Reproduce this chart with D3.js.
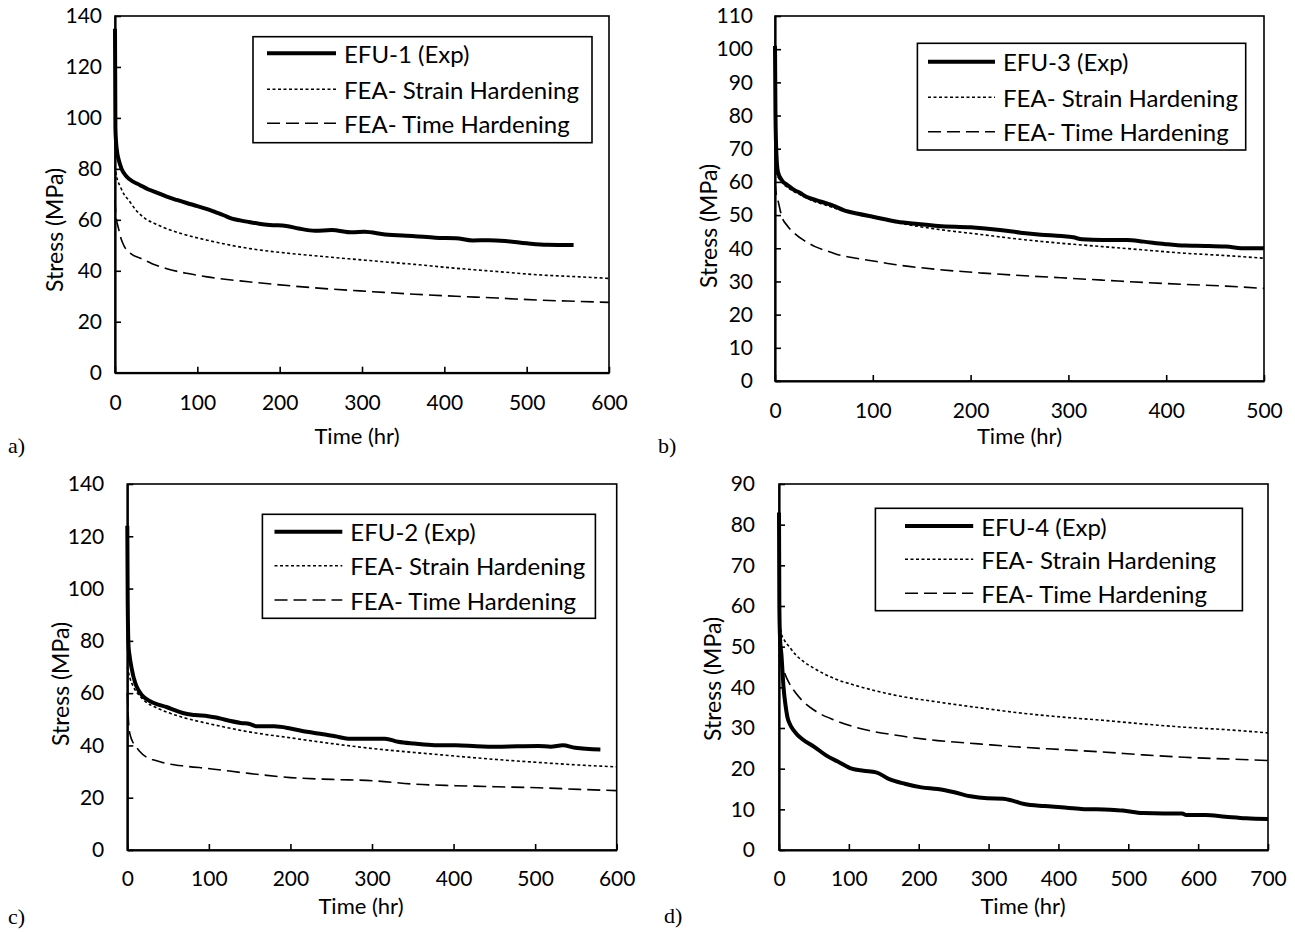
<!DOCTYPE html>
<html><head><meta charset="utf-8">
<script src="https://cdn.jsdelivr.net/npm/d3@7"></script>
<style>
html,body{margin:0;padding:0;background:#fff;}
svg{display:block;}
</style></head>
<body>
<svg id="chart" width="1295" height="933"></svg>
<script>
// ---------- DATA ----------
const seriesNames = ["(Exp)", "FEA- Strain Hardening", "FEA- Time Hardening"];
const panelNames = ["EFU-1", "EFU-3", "EFU-2", "EFU-4"];
const panelTags = ["a)", "b)", "c)", "d)"];
const xTicksA = [0,100,200,300,400,500,600];
const yTicksA = [0,20,40,60,80,100,120,140];
const xTicksB = [0,100,200,300,400,500];
const yTicksB = [0,10,20,30,40,50,60,70,80,90,100,110];
const xTicksC = [0,100,200,300,400,500,600];
const yTicksC = [0,20,40,60,80,100,120,140];
const xTicksD = [0,100,200,300,400,500,600,700];
const yTicksD = [0,10,20,30,40,50,60,70,80,90];

// panel a: EFU-1
const efu1Exp = [[0,135],[0.5,96],[2,88],[5,83],[8,80],[14,77],[22,75],[30,73.7],[40,72],[50,70.8],[62,69.2],[75,67.8],[87,66.6],[100,65.4],[112,64.2],[122,63],[132,61.8],[142,60.5],[152,59.8],[162,59.2],[175,58.5],[188,58],[208,57.6],[223,56.6],[243,55.7],[263,56],[288,55.1],[303,55.3],[328,54.2],[364,53.6],[389,53],[414,52.8],[434,51.9],[454,52],[474,51.7],[500,50.8],[525,50.2],[557,50.1]];
const efu1Strain = [[0,81],[2,77],[6.5,73],[11,70],[16.6,67.7],[25,64],[36.7,60.5],[50,58.3],[62,56.6],[87,54],[112,52],[162,48.8],[213,46.8],[263,45.3],[313,43.9],[364,42.5],[414,41],[464,39.7],[515,38.4],[560,37.7],[600,37]];
const efu1Time = [[0,68],[1,62],[4,57],[7,53],[11.6,49.4],[20,46.5],[31.7,44.8],[45,42.8],[62,40.9],[87,39],[112,37.6],[162,35.7],[213,34.1],[263,32.8],[313,31.8],[364,30.8],[414,30],[464,29.3],[515,28.5],[560,28],[600,27.6]];
// panel b: EFU-3
const efu3Exp = [[0,101],[0.5,80],[1.5,68],[3,63],[7,60.5],[13,59],[20,57.5],[25,56.8],[32,55.5],[42,54.5],[53,53.5],[60,52.8],[70,51.5],[85,50.4],[100,49.5],[125,48],[146,47.3],[167,46.7],[200,46.3],[230,45.5],[251,44.7],[272,44.1],[293,43.7],[305,43.3],[314,42.7],[335,42.5],[360,42.5],[377,42],[398,41.3],[419,40.8],[440,40.7],[461,40.5],[482,40],[500,40]];
const efu3Strain = [[0,63],[3,61.5],[7,59.8],[13,58.3],[20,57],[30,55.5],[41,54],[52,53],[62,52],[83,50.5],[104,49],[125,47.7],[167,45.7],[209,44.2],[251,42.7],[293,41.5],[335,40.5],[377,39.5],[419,38.5],[461,37.8],[500,37]];
const efu3Time = [[0,60],[1,57],[3,54.5],[7,49.5],[12,47],[20,44.5],[30,42.3],[41,40.5],[52,39.3],[62,38.3],[83,37],[104,36],[125,35],[167,33.6],[209,32.6],[251,31.8],[293,31.1],[335,30.4],[377,29.7],[419,29.1],[461,28.6],[500,27.9]];
// panel c: EFU-2
const efu2Exp = [[0,124],[0.5,95],[1.5,78],[2.5,75],[5,70],[10,63.6],[14,61],[18,59.2],[28,56.9],[38,55.6],[48,54.7],[58,53.5],[68,52.4],[83,51.6],[99,51.2],[109,50.7],[119,49.9],[139,48.6],[150,48.2],[159,47.3],[180,47.3],[200,46.5],[220,45.2],[240,44.3],[255,43.5],[271,42.6],[301,42.6],[316,42.6],[332,41.4],[352,40.7],[377,40.1],[403,40.1],[428,39.7],[453,39.5],[478,39.7],[504,39.8],[519,39.5],[534,40.1],[549,39.1],[580,38.4]];
const efu2Strain = [[0,70],[3,66],[7.6,62.4],[15,59],[23,56.6],[35,54.5],[48,52.8],[73,50.3],[99,48.4],[149,45.2],[200,42.9],[251,40.7],[301,38.8],[352,37.3],[403,35.9],[453,34.6],[504,33.5],[554,32.5],[600,31.8]];
const efu2Time = [[0,60],[1,52],[2,47],[4,43.5],[6.4,41.5],[10,39.8],[15,37.8],[23,35.6],[35,34.2],[48,33.1],[73,32],[99,31.2],[149,29.3],[200,27.7],[251,27],[301,26.5],[352,25.2],[403,24.6],[453,24.2],[504,23.8],[554,23.2],[600,22.7]];
// panel d: EFU-4
const efu4Exp = [[0,83],[0.5,60],[1.5,52],[3.5,48],[6.5,40],[9,36],[12,32.7],[16,30.8],[21,29.4],[27,28.2],[33,27.3],[51,25.3],[68,23.2],[86,21.6],[104,20],[121,19.5],[139,19.1],[157,17.5],[180,16.3],[204,15.4],[227,15],[251,14.2],[274,13.2],[298,12.7],[321,12.6],[333,12.2],[351,11.3],[380,10.8],[404,10.5],[433,10.1],[474,9.9],[492,9.7],[521,9.1],[551,9],[577,9],[583,8.6],[610,8.6],[639,8.2],[669,7.8],[700,7.6]];
const efu4Strain = [[0,57],[3.5,53.2],[8,51.5],[15,49.9],[24,48],[33,46.6],[51,44.6],[80,42.1],[109,40.5],[168,38],[227,36.4],[286,35],[345,33.7],[404,32.7],[463,31.9],[521,31],[580,30.2],[639,29.6],[700,28.8]];
const efu4Time = [[0,48],[3.5,45.8],[8,43.5],[15,40.9],[24,38.6],[33,36.8],[51,34.3],[80,31.9],[109,30.2],[168,28.2],[227,26.9],[286,26.1],[345,25.3],[404,24.7],[463,24.1],[521,23.4],[580,22.8],[639,22.4],[700,22]];

// ---------- LAYOUT ----------
const panels = [
  {name:panelNames[0], tag:panelTags[0], exp:efu1Exp, strain:efu1Strain, time:efu1Time, xt:xTicksA, yt:yTicksA,
   L:115, R:609, T:16, B:372.7, yPad:13, xPad:22, leg:{x:253,y:36.7,w:339,h:106, sx:267, tx:344, rows:[53.3,89.3,123.3]},
   ytitle:{x:54,y:230}, xtitle:{x:357,y:435}, tagPos:{x:8,y:445}},
  {name:panelNames[1], tag:panelTags[1], exp:efu3Exp, strain:efu3Strain, time:efu3Time, xt:xTicksB, yt:yTicksB,
   L:775, R:1264, T:16, B:381, yPad:22, xPad:22, leg:{x:917.4,y:43.3,w:328.3,h:106.7, sx:928, tx:1003, rows:[61.7,97.3,131.7]},
   ytitle:{x:707.6,y:226}, xtitle:{x:1019.5,y:435}, tagPos:{x:658,y:445}},
  {name:panelNames[2], tag:panelTags[2], exp:efu2Exp, strain:efu2Strain, time:efu2Time, xt:xTicksC, yt:yTicksC,
   L:127.3, R:616.7, T:484, B:850, yPad:23, xPad:21, leg:{x:262.4,y:514.3,w:333,h:104, sx:274.5, tx:350.3, rows:[531.7,565.7,600]},
   ytitle:{x:60,y:684}, xtitle:{x:361,y:905}, tagPos:{x:8,y:916.7}},
  {name:panelNames[3], tag:panelTags[3], exp:efu4Exp, strain:efu4Strain, time:efu4Time, xt:xTicksD, yt:yTicksD,
   L:779, R:1268, T:484, B:850, yPad:24, xPad:21, leg:{x:875.4,y:508.3,w:367,h:102.4, sx:905, tx:981.2, rows:[526,559.3,593.3]},
   ytitle:{x:711.7,y:679}, xtitle:{x:1023,y:905}, tagPos:{x:664,y:915}}
];

const FONT = "Lato, 'Open Sans', sans-serif";
const styles = [
  {w:4, dash:null},
  {w:1.6, dash:"3,2.5"},
  {w:1.6, dash:"13,6"}
];

const svg = d3.select("#chart");

panels.forEach(p => {
  const xmax = p.xt[p.xt.length-1], ymax = p.yt[p.yt.length-1];
  const x = d3.scaleLinear().domain([0, xmax]).range([p.L, p.R]);
  const y = d3.scaleLinear().domain([0, ymax]).range([p.B, p.T]);
  const g = svg.append("g");

  // frame
  g.append("rect").attr("x",p.L).attr("y",p.T).attr("width",p.R-p.L).attr("height",p.B-p.T)
    .attr("fill","none").attr("stroke","#000").attr("stroke-width",1.6);

  // axes
  const ax = g.append("g").attr("transform",`translate(0,${p.B})`)
    .call(d3.axisBottom(x).tickValues(p.xt).tickSizeInner(-6).tickSizeOuter(0).tickPadding(p.xPad).tickFormat(d3.format("d")));
  const ay = g.append("g").attr("transform",`translate(${p.L},0)`)
    .call(d3.axisLeft(y).tickValues(p.yt).tickSizeInner(-6).tickSizeOuter(0).tickPadding(p.yPad).tickFormat(d3.format("d")));
  [ax, ay].forEach(a => {
    a.select(".domain").attr("stroke","#000").attr("stroke-width",2.2);
    a.selectAll(".tick line").attr("stroke","#000").attr("stroke-width",1.6);
    a.selectAll(".tick text").attr("fill","#000").style("font-family",FONT).style("font-size","21px");
  });

  // lines
  const line = d3.line().x(d=>x(d[0])).y(d=>y(d[1])).curve(d3.curveMonotoneX);
  [p.time, p.strain, p.exp].forEach((data, i) => {
    const st = styles[2-i];
    g.append("path").datum(data).attr("d", line).attr("fill","none").attr("stroke","#000")
      .attr("stroke-width", st.w).attr("stroke-dasharray", st.dash).attr("stroke-linejoin","round");
  });

  // legend
  const lg = g.append("g");
  lg.append("rect").attr("x",p.leg.x).attr("y",p.leg.y).attr("width",p.leg.w).attr("height",p.leg.h)
    .attr("fill","#fff").attr("stroke","#000").attr("stroke-width",1.6);
  const labels = [p.name + " " + seriesNames[0], seriesNames[1], seriesNames[2]];
  labels.forEach((lab, i) => {
    const st = styles[i];
    const yy = p.leg.rows[i];
    lg.append("line").attr("x1",p.leg.sx).attr("x2",p.leg.tx-8).attr("y1",yy).attr("y2",yy)
      .attr("stroke","#000").attr("stroke-width",st.w).attr("stroke-dasharray",st.dash);
    lg.append("text").attr("x",p.leg.tx).attr("y",yy).attr("dominant-baseline","central")
      .style("font-family",FONT).style("font-size","24px").text(lab);
  });

  // axis titles
  g.append("text").attr("transform",`translate(${p.ytitle.x},${p.ytitle.y}) rotate(-90)`)
    .attr("text-anchor","middle").attr("dominant-baseline","central")
    .style("font-family",FONT).style("font-size","23px").text("Stress (MPa)");
  g.append("text").attr("x",p.xtitle.x).attr("y",p.xtitle.y)
    .attr("text-anchor","middle").attr("dominant-baseline","central")
    .style("font-family",FONT).style("font-size","22px").text("Time (hr)");
  // panel tag
  g.append("text").attr("x",p.tagPos.x).attr("y",p.tagPos.y).attr("dominant-baseline","central")
    .style("font-family","'Liberation Serif', 'Times New Roman', serif").style("font-size","22px").text(p.tag);
});
</script>
</body></html>
